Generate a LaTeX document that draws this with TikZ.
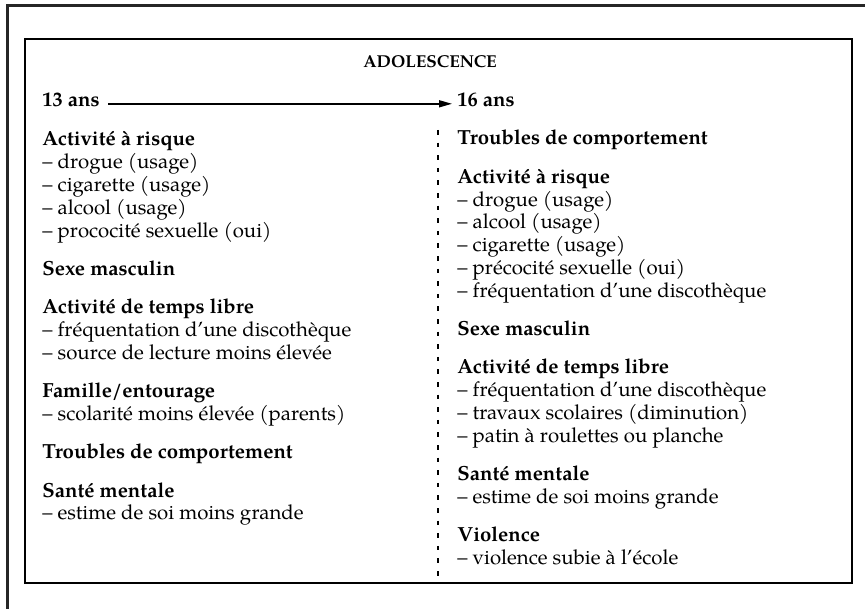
\documentclass[tikz,border=0pt]{standalone}
\usepackage{fontspec}
\setmainfont{TeX Gyre Pagella}
\usetikzlibrary{arrows.meta}

\tikzset{
  texte/.style={anchor=base west, inner sep=0pt, font=\fontsize{10.2}{11.4}\selectfont},
  cadre/.style={line width=0.8pt},
  fleche/.style={line width=0.75pt, -{Triangle[length=6.5pt,width=3.5pt]}},
  pointille/.style={line width=0.8pt, dash pattern=on 2.3pt off 4pt}
}

\begin{document}
\begin{tikzpicture}[x=0.5pt, y=-0.5pt]
  \useasboundingbox (0,0) rectangle (865,609);
  % outer frame (only top and left edges show)
  \draw[line width=1.5pt, black!85] (865,6) -- (7,6) -- (7,609);
  \draw[cadre] (25,39) rectangle (852,583);

  \node[anchor=base, inner sep=0pt, font=\fontsize{8.6}{10}\selectfont\bfseries] (titre) at (430,68) {ADOLESCENCE};

  % time axis
  \node[texte, font=\fontsize{10.2}{11.4}\selectfont\bfseries] (debut) at (42,107) {13 ans};
  \node[texte, font=\fontsize{10.2}{11.4}\selectfont\bfseries] (fin) at (457,107) {16 ans};
  \draw[fleche] ([xshift=4pt,yshift=1.6pt]debut.base east) -- ([xshift=-2.5pt,yshift=1.6pt]fin.base west);

  % separation
  \coordinate (haut) at (438,130);
  \coordinate (bas) at (438,583);
  \draw[pointille] (haut) -- (bas);

  \node[texte] (gauche) at (42,146) {
    \begin{minipage}[t]{190pt}
      \fontsize{10.2}{11.4}\selectfont\setlength{\parindent}{0pt}
      \textbf{Activité à risque}\\
      – drogue (usage)\\
      – cigarette (usage)\\
      – alcool (usage)\\
      – prococité sexuelle (oui)\\[7.75pt]
      \textbf{Sexe masculin}\\[7.75pt]
      \textbf{Activité de temps libre}\\
      – fréquentation d’une discothèque\\
      – source de lecture moins élevée\\[7.75pt]
      \textbf{Famille/entourage}\\
      – scolarité moins élevée (parents)\\[7.75pt]
      \textbf{Troubles de comportement}\\[7.75pt]
      \textbf{Santé mentale}\\
      – estime de soi moins grande
    \end{minipage}
  };

  \node[texte] (droite) at (457,145) {
    \begin{minipage}[t]{190pt}
      \fontsize{10.2}{11.4}\selectfont\setlength{\parindent}{0pt}
      \textbf{Troubles de comportement}\\[7.75pt]
      \textbf{Activité à risque}\\
      – drogue (usage)\\
      – alcool (usage)\\
      – cigarette (usage)\\
      – précocité sexuelle (oui)\\
      – fréquentation d’une discothèque\\[7.75pt]
      \textbf{Sexe masculin}\\[7.75pt]
      \textbf{Activité de temps libre}\\
      – fréquentation d’une discothèque\\
      – travaux scolaires (diminution)\\
      – patin à roulettes ou planche\\[7.75pt]
      \textbf{Santé mentale}\\
      – estime de soi moins grande\\[7.75pt]
      \textbf{Violence}\\
      – violence subie à l’école
    \end{minipage}
  };
\end{tikzpicture}
\end{document}
